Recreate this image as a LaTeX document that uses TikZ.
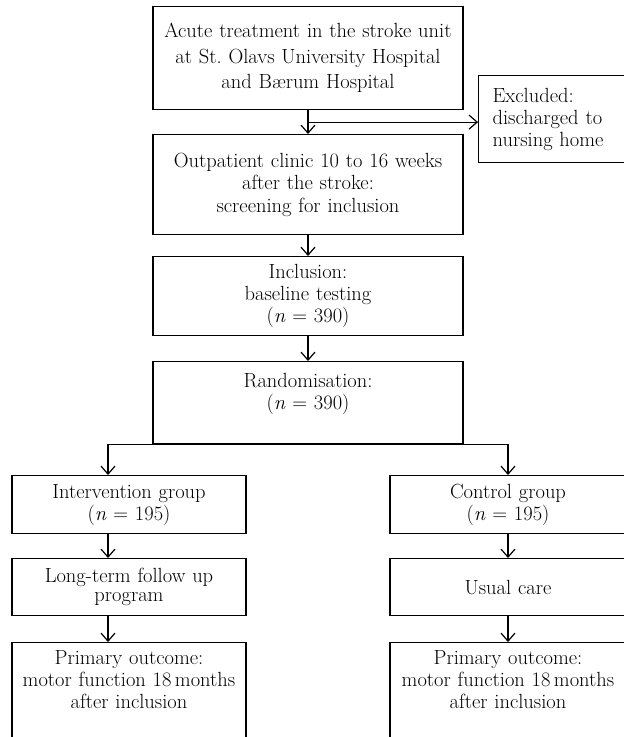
\documentclass[tikz,border=0pt]{standalone}
\usepackage{tikz}
\usetikzlibrary{arrows.meta,calc}

\begin{document}
\begin{tikzpicture}[x=1pt, y=-1pt, line width=1.2pt,
		box/.style={draw, inner sep=0pt, anchor=north, align=center, text width=#1},
		>={Straight Barb[length=8pt,width=14pt]},
		font=\fontsize{20.5}{22}\selectfont]

		\useasboundingbox (0,0) rectangle (624,737);

		% colonne centrale
		\node [box=310pt, minimum height=103pt, font=\fontsize{20.5}{25.5}\selectfont] (acute) at (308,6) {Acute treatment in the stroke unit\\ at St.\ Olavs University Hospital\\ and Bærum Hospital};
		\node [box=134pt, align=left, inner xsep=14pt, minimum height=87pt, anchor=north west] (excl) at (478,75) {Excluded:\\ discharged to\\ nursing home};
		\node [box=310pt, minimum height=100pt, font=\fontsize{20.5}{22.5}\selectfont] (outp) at (308,134) {Outpatient clinic 10 to 16 weeks\\ after the stroke:\\ screening for inclusion};
		\node [box=310pt, minimum height=79pt] (incl) at (308,256) {Inclusion:\\ baseline testing\\ (\textit{n} = 390)};
		\node [box=310pt, minimum height=82pt] (rand) at (308,361) {Randomisation:\\ (\textit{n} = 390)\\ \mbox{}};

		% deux bras
		\node [box=234pt, minimum height=58pt] (interv) at (129,475) {Intervention group\\ (\textit{n} = 195)};
		\node [box=234pt, minimum height=57pt, font=\fontsize{20.5}{19.5}\selectfont] (longt) at (129,558) {Long-term follow up\\ program};
		\node [box=234pt, minimum height=125pt] (primL) at (129,642) {Primary outcome:\\ motor function 18\,months\\ after inclusion\\[30pt] \mbox{}};
		\node [box=236pt, minimum height=58pt] (ctrl) at (508,475) {Control group\\ (\textit{n} = 195)};
		\node [box=236pt, minimum height=57pt] (usual) at (508,558) {Usual care};
		\node [box=236pt, minimum height=125pt] (primR) at (508,642) {Primary outcome:\\ motor function 18\,months\\ after inclusion\\[30pt] \mbox{}};

		\coordinate (split) at ($(acute.south)!.5!(outp.north)$);
		\coordinate (lcol) at (108,0);

		\draw [->] (acute.south) -- (outp.north);
		\draw [->] (split) -- (split -| excl.west);
		\draw [->] (outp.south) -- (incl.north);
		\draw [->] (incl.south) -- (rand.north);
		\draw [<->] (interv.north -| lcol) |- (rand.south) -| (ctrl.north);
		\draw [->] (interv.south -| lcol) -- (longt.north -| lcol);
		\draw [->] (longt.south -| lcol) -- (primL.north -| lcol);
		\draw [->] (ctrl.south) -- (usual.north);
		\draw [->] (usual.south) -- (primR.north);
\end{tikzpicture}
\end{document}
